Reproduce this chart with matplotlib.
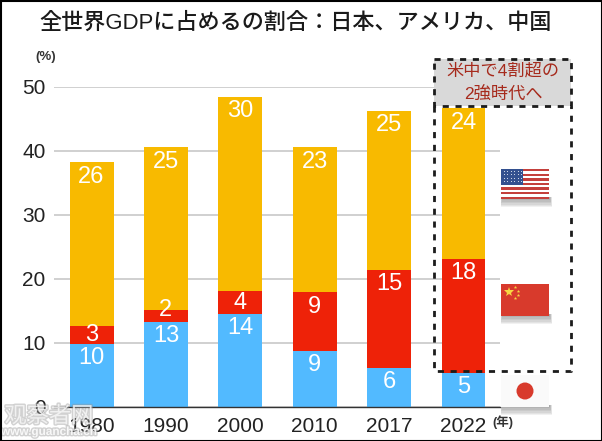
#!/usr/bin/env python3
"""Share of world GDP: Japan, USA, China (stacked bars with flag legend)."""
import matplotlib
matplotlib.use('Agg')
import matplotlib.patheffects as pe
import matplotlib.pyplot as plt
from matplotlib.patches import Circle, Rectangle

plt.rcParams['font.family'] = ['Liberation Sans', 'Noto Sans CJK JP', 'DejaVu Sans']

W, H = 602, 441

years = ['1980', '1990', '2000', '2010', '2017', '2022']
japan = [9.9, 13.3, 14.6, 8.7, 6.1, 5.3]
china = [2.8, 1.9, 3.5, 9.2, 15.3, 17.8]
usa = [25.6, 25.4, 30.4, 22.7, 24.9, 23.6]
japan_labels = ['10', '13', '14', '9', '6', '5']
china_labels = ['3', '2', '4', '9', '15', '18']
usa_labels = ['26', '25', '30', '23', '25', '24']
y_ticks = [0, 10, 20, 30, 40, 50]

BLUE = '#52baff'
RED = '#ee2208'
YELLOW = '#f8ba00'
DARK = '#222222'


def flag_shadow(ov, x, y, w, h):
    """Soft drop shadow under a flag."""
    for i in range(7):
        ov.add_patch(Rectangle((x + 1 - i * 0.2, y + h - 2), w + i * 0.5, 2 + i * 1.4,
                               fc='black', ec='none', alpha=0.055, zorder=3))


def draw_usa(ov, x, y, w, h):
    flag_shadow(ov, x, y, w, h)
    ov.add_patch(Rectangle((x, y), w, h, fc='white', ec='none', zorder=4))
    sh = h / 13
    for i in range(0, 13, 2):
        ov.add_patch(Rectangle((x, y + i * sh), w, sh, fc='#c4403c', ec='none', zorder=4))
    ov.add_patch(Rectangle((x, y), w * 0.45, sh * 7, fc='#33508f', ec='none', zorder=5))
    for r in range(4):
        for c in range(6):
            ov.plot(x + 2.5 + c * 3.5, y + 2 + r * 3.4, 'o', ms=0.8, color='#dfe4f0',
                    mew=0, zorder=6)


def draw_china(ov, x, y, w, h):
    flag_shadow(ov, x, y, w, h)
    ov.add_patch(Rectangle((x, y), w, h, fc='#d83a2c', ec='none', zorder=4))
    ov.plot(x + 7.5, y + 8, '*', ms=7, color='#f6d743', mew=0, zorder=5)
    for dx, dy in [(14, 3), (17, 6.5), (17, 11), (14, 14)]:
        ov.plot(x + dx, y + dy, '*', ms=2.6, color='#f6d743', mew=0, zorder=5)


def draw_japan(ov, x, y, w, h):
    flag_shadow(ov, x, y, w, h)
    ov.add_patch(Rectangle((x, y), w, h, fc='#fafafa', ec='none', zorder=4))
    ov.add_patch(Circle((x + w / 2, y + h / 2), 8.5, fc='#d83a2c', ec='none', zorder=5))


def main():
    fig = plt.figure(figsize=(W / 100, H / 100), dpi=100, facecolor='white')

    # chart axes, placed by pixel: plot spans x 54-500, y 87-407
    ax = fig.add_axes([54 / W, 1 - 407 / H, 446 / W, 320 / H])
    x = list(range(len(years)))
    step = 74.4
    ax.set_xlim(-(91.5 - 54) / step, (500 - 91.5) / step)
    ax.set_ylim(0, 50)

    bottom2 = [a + b for a, b in zip(japan, china)]
    width = 44 / step
    ax.bar(x, japan, width, color=BLUE, zorder=2)
    ax.bar(x, china, width, bottom=japan, color=RED, zorder=2)
    ax.bar(x, usa, width, bottom=bottom2, color=YELLOW, zorder=2)

    label = dict(ha='center', va='center', color='white', fontsize=17, zorder=3)
    for i in x:
        ax.text(i, japan[i] - 2.2, japan_labels[i], **label)
        if china[i] > 5:
            china_y = bottom2[i] - 2.2
        elif china[i] < 2.5:
            # the thin 1990 segment: label sits on its top edge
            china_y = bottom2[i] - 0.1
        else:
            china_y = japan[i] + china[i] / 2 - 0.1
        ax.text(i, china_y, china_labels[i], **label)
        ax.text(i, bottom2[i] + usa[i] - 2.3, usa_labels[i], **label)

    ax.set_yticks(y_ticks)
    ax.set_xticks(x)
    ax.set_xticklabels(years)
    ax.tick_params(axis='both', length=0, labelsize=15, labelcolor=DARK)
    ax.tick_params(axis='x', pad=7)
    ax.tick_params(axis='y', pad=6)
    ax.grid(axis='y', color='#c4c4c4', lw=1.1, zorder=1)
    ax.set_axisbelow(True)
    for name in ['top', 'right', 'left']:
        ax.spines[name].set_visible(False)
    ax.spines['bottom'].set_color('#333333')
    ax.spines['bottom'].set_linewidth(1.0)
    ax.spines['bottom'].set_zorder(4)

    # overlay in pixel coordinates for annotations and flags
    ov = fig.add_axes([0, 0, 1, 1], facecolor='none')
    ov.set_xlim(0, W)
    ov.set_ylim(H, 0)
    ov.axis('off')

    ov.text(296, 23, '全世界GDPに占めるの割合：日本、アメリカ、中国', ha='center', va='center',
            fontsize=15.9, fontweight='medium', color='#1a1a1a')
    ov.text(46, 57, '(%)', ha='center', va='center', fontsize=9.5, fontweight='bold',
            color='#333333')
    ov.text(503, 422, '(年)', ha='center', va='center', fontsize=9, fontweight='bold',
            color='#333333')

    # callout boxes
    dash = dict(ls=(0, (2.2, 2.4)), lw=2.0, color='#1c1c1c', zorder=7)
    ov.add_patch(Rectangle((434, 59), 137, 47, fc='#d9d9d9', ec='none', zorder=2.5))
    ov.plot([434, 571, 571, 434, 434], [59, 59, 106, 106, 59], **dash)
    ov.plot([434, 434, 571, 571], [106, 371, 371, 106], **dash)
    ov.text(503, 71, '米中で4割超の', ha='center', va='center', fontsize=12.4,
            color='#a62a1c', zorder=8)
    ov.text(503, 95, '2強時代へ', ha='center', va='center', fontsize=12.4,
            color='#a62a1c', zorder=8)

    # flags
    draw_usa(ov, 501, 169, 48, 30)
    draw_china(ov, 501, 284, 48, 32)
    draw_japan(ov, 501, 375, 48, 32)

    # watermark
    halo = [pe.withStroke(linewidth=2, foreground='#9a9a9a', alpha=0.45)]
    ov.text(49, 416, '观察者网', ha='center', va='center', fontsize=16, family=['Noto Sans CJK SC'],
            color='white', alpha=0.7, zorder=9, path_effects=halo)
    ov.text(49, 432, 'www.guancha.cn', ha='center', va='center', fontsize=8.5,
            fontweight='bold', color='white', alpha=0.85, zorder=9, path_effects=halo)

    # image border
    ov.add_patch(Rectangle((0.5, 0.5), W - 1, H - 1, fc='none', ec='black', lw=1.5, zorder=10))

    fig.savefig('out.png', dpi=100)
    plt.close(fig)


if __name__ == '__main__':
    main()
